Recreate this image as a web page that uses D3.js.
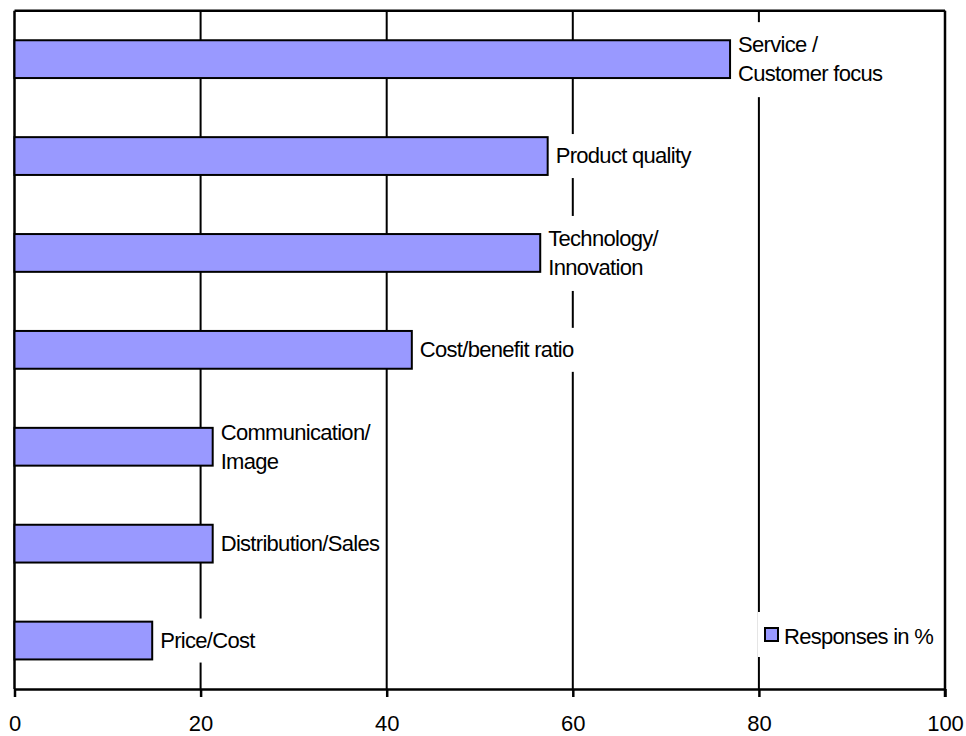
<!DOCTYPE html>
<html>
<head>
<meta charset="utf-8">
<script src="https://cdn.jsdelivr.net/npm/d3@7"></script>
<style>
  body { margin: 0; background: #fff; }
  text { font-family: Arial, "Liberation Sans", sans-serif; fill: #000; }
</style>
</head>
<body>
<svg width="966" height="736"></svg>
<script>
var width = 966;
var height = 736;

// data
var categories = ["Service / Customer focus", "Product quality", "Technology/ Innovation",
                  "Cost/benefit ratio", "Communication/ Image", "Distribution/Sales", "Price/Cost"];
var labelLines = [["Service /", "Customer focus"], ["Product quality"], ["Technology/", "Innovation"],
                  ["Cost/benefit ratio"], ["Communication/", "Image"], ["Distribution/Sales"], ["Price/Cost"]];
var responses = [76.9, 57.3, 56.5, 42.7, 21.3, 21.3, 14.8];
var xTicks = [0, 20, 40, 60, 80, 100];
var seriesName = "Responses in %";

var plotLeft = 14.5, plotRight = 945, plotTop = 10.7, plotBottom = 689;

var xScale = d3.scaleLinear()
    .domain([0, 100])
    .range([plotLeft, plotRight]);

var yScale = d3.scaleBand()
    .domain(categories)
    .range([plotTop, plotBottom])
    .paddingInner(0.61)
    .paddingOuter(0.305);

var svg = d3.select("svg");

// gridlines
svg.append("g")
    .selectAll("line")
    .data(xTicks.slice(1))
    .enter()
    .append("line")
    .attr("x1", d => xScale(d))
    .attr("x2", d => xScale(d))
    .attr("y1", plotTop)
    .attr("y2", plotBottom)
    .attr("stroke", "#000")
    .attr("stroke-width", 2);

// top border
svg.append("line")
    .attr("x1", plotLeft).attr("x2", plotRight)
    .attr("y1", plotTop).attr("y2", plotTop)
    .attr("stroke", "#000").attr("stroke-width", 2.5);

// left axis line
svg.append("line")
    .attr("x1", plotLeft).attr("x2", plotLeft)
    .attr("y1", plotTop).attr("y2", plotBottom)
    .attr("stroke", "#000").attr("stroke-width", 2.5);

// bars
svg.append("g")
    .selectAll("rect")
    .data(responses)
    .enter()
    .append("rect")
    .attr("x", xScale(0))
    .attr("y", (d, i) => yScale(categories[i]))
    .attr("width", d => xScale(d) - xScale(0))
    .attr("height", yScale.bandwidth())
    .attr("fill", "#9999ff")
    .attr("stroke", "#000")
    .attr("stroke-width", 2);

// bar labels with white backgrounds
var labels = svg.append("g")
    .selectAll("g")
    .data(responses)
    .enter()
    .append("g");

labels.each(function(d, i) {
    var g = d3.select(this);
    var lines = labelLines[i];
    var cy = yScale(categories[i]) + yScale.bandwidth() / 2;
    var x = xScale(d) + 8;
    var bg = g.append("rect").attr("fill", "#fff");
    var t = g.append("text")
        .attr("font-size", 22)
        .attr("letter-spacing", -0.7);
    if (lines.length == 1) {
        t.append("tspan").attr("x", x).attr("y", cy + 7).text(lines[0]);
        bg.attr("x", x - 3).attr("y", cy - 22).attr("height", 44);
    } else {
        t.append("tspan").attr("x", x).attr("y", cy - 7).text(lines[0]);
        t.append("tspan").attr("x", x).attr("y", cy + 22).text(lines[1]);
        bg.attr("x", x - 3).attr("y", cy - 37).attr("height", 75);
    }
    bg.attr("width", t.node().getBBox().width + 6);
});

// x axis
var xAxis = d3.axisBottom(xScale)
    .tickValues(xTicks)
    .tickSize(8)
    .tickSizeOuter(0)
    .tickPadding(18);

var axisG = svg.append("g")
    .attr("transform", `translate(0, ${plotBottom})`)
    .call(xAxis);
axisG.select(".domain").attr("stroke", "#000").attr("stroke-width", 2.5);
axisG.selectAll(".tick line").attr("stroke", "#000").attr("stroke-width", 2.5);
axisG.selectAll(".tick text")
    .attr("font-size", 22)
    .attr("font-family", "Arial, 'Liberation Sans', sans-serif")
    .attr("fill", "#000");

// right border
svg.append("line")
    .attr("x1", plotRight).attr("x2", plotRight)
    .attr("y1", plotTop).attr("y2", plotBottom + 8)
    .attr("stroke", "#000").attr("stroke-width", 2.5);

// legend
var legend = svg.append("g").attr("transform", "translate(758, 612)");
legend.append("rect")
    .attr("width", 180).attr("height", 45)
    .attr("fill", "#fff");
legend.append("rect")
    .attr("x", 7).attr("y", 16)
    .attr("width", 13).attr("height", 13)
    .attr("fill", "#9999ff")
    .attr("stroke", "#000")
    .attr("stroke-width", 2);
legend.append("text")
    .attr("x", 26).attr("y", 32)
    .attr("font-size", 22)
    .attr("letter-spacing", -0.7)
    .text(seriesName);
</script>
</body>
</html>
